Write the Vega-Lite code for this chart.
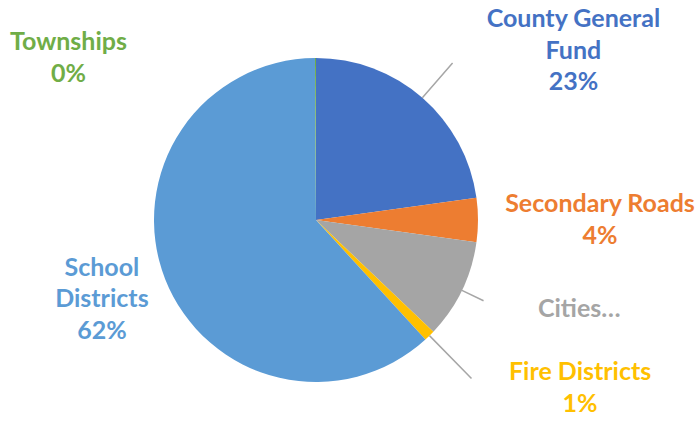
{
  "$schema": "https://vega.github.io/schema/vega-lite/v6.json",
  "width": 632,
  "height": 402,
  "autosize": {"type": "none"},
  "padding": {"left": 0, "top": 19, "right": 65, "bottom": 0},
  "background": "white",
  "config": {"view": {"stroke": null}},
  "data": {
    "values": [
      {"category": "County General Fund", "share": 22.8, "order": 1, "label": "County General\nFund\n23%"},
      {"category": "Secondary Roads", "share": 4.4, "order": 2, "label": "Secondary Roads\n4%"},
      {"category": "Cities", "share": 9.9, "order": 3, "label": "Cities…"},
      {"category": "Fire Districts", "share": 1.1, "order": 4, "label": "Fire Districts\n1%"},
      {"category": "School Districts", "share": 61.7, "order": 5, "label": "School\nDistricts\n62%"},
      {"category": "Townships", "share": 0.1, "order": 6, "label": "Townships\n0%"}
    ]
  },
  "encoding": {
    "theta": {"field": "share", "type": "quantitative", "stack": true, "scale": {"domain": [0, 100]}},
    "order": {"field": "order", "type": "quantitative", "sort": "ascending"}
  },
  "layer": [
    {
      "mark": {"type": "arc", "radius": 162},
      "encoding": {
        "color": {
          "field": "category",
          "type": "nominal",
          "scale": {
            "domain": ["County General Fund", "Secondary Roads", "Cities", "Fire Districts", "School Districts", "Townships"],
            "range": ["#4472C4", "#ED7D31", "#A5A5A5", "#FFC000", "#5B9BD5", "#70AD47"]
          },
          "legend": null
        }
      }
    },
    {
      "mark": {"type": "arc", "radius": 208, "radius2": 162, "padAngle": 3, "filled": false, "stroke": "#A6A6A6", "strokeWidth": 1.5},
      "encoding": {"strokeOpacity": {"condition": {"test": "datum.category === 'County General Fund'", "value": 1}, "value": 0}}
    },
    {
      "mark": {"type": "arc", "radius": 186, "radius2": 162, "padAngle": 3, "filled": false, "stroke": "#A6A6A6", "strokeWidth": 1.5},
      "encoding": {"strokeOpacity": {"condition": {"test": "datum.category === 'Cities'", "value": 1}, "value": 0}}
    },
    {
      "mark": {"type": "arc", "radius": 222, "radius2": 162, "padAngle": 3, "filled": false, "stroke": "#A6A6A6", "strokeWidth": 1.5},
      "encoding": {"strokeOpacity": {"condition": {"test": "datum.category === 'Fire Districts'", "value": 1}, "value": 0}}
    },
    {
      "mark": {"type": "text", "radius": 290, "dx": 67, "dy": 6, "align": "center", "baseline": "top", "font": "Lato", "fontSize": 25, "fontWeight": "bold", "lineBreak": "\n", "lineHeight": 31.5, "color": "#4472C4"},
      "encoding": {"text": {"condition": {"test": "datum.category === 'County General Fund'", "field": "label"}, "value": ""}}
    },
    {
      "mark": {"type": "text", "radius": 284, "dx": 0, "dy": -28, "align": "center", "baseline": "top", "font": "Lato", "fontSize": 25, "fontWeight": "bold", "lineBreak": "\n", "lineHeight": 31.5, "color": "#ED7D31"},
      "encoding": {"text": {"condition": {"test": "datum.category === 'Secondary Roads'", "field": "label"}, "value": ""}}
    },
    {
      "mark": {"type": "text", "radius": 280, "dx": 11, "dy": -45, "align": "center", "baseline": "top", "font": "Lato", "fontSize": 25, "fontWeight": "bold", "lineBreak": "\n", "lineHeight": 31.5, "color": "#A5A5A5"},
      "encoding": {"text": {"condition": {"test": "datum.category === 'Cities'", "field": "label"}, "value": ""}}
    },
    {
      "mark": {"type": "text", "radius": 300, "dx": 54, "dy": -74, "align": "center", "baseline": "top", "font": "Lato", "fontSize": 25, "fontWeight": "bold", "lineBreak": "\n", "lineHeight": 31.5, "color": "#FFC000"},
      "encoding": {"text": {"condition": {"test": "datum.category === 'Fire Districts'", "field": "label"}, "value": ""}}
    },
    {
      "mark": {"type": "text", "radius": 230, "dx": 0, "dy": -48, "align": "center", "baseline": "top", "font": "Lato", "fontSize": 25, "fontWeight": "bold", "lineBreak": "\n", "lineHeight": 31.5, "color": "#5B9BD5"},
      "encoding": {"text": {"condition": {"test": "datum.category === 'School Districts'", "field": "label"}, "value": ""}}
    },
    {
      "mark": {"type": "text", "radius": 162, "dx": -247, "dy": -28, "align": "center", "baseline": "top", "font": "Lato", "fontSize": 25, "fontWeight": "bold", "lineBreak": "\n", "lineHeight": 31.5, "color": "#70AD47"},
      "encoding": {"text": {"condition": {"test": "datum.category === 'Townships'", "field": "label"}, "value": ""}}
    }
  ]
}
